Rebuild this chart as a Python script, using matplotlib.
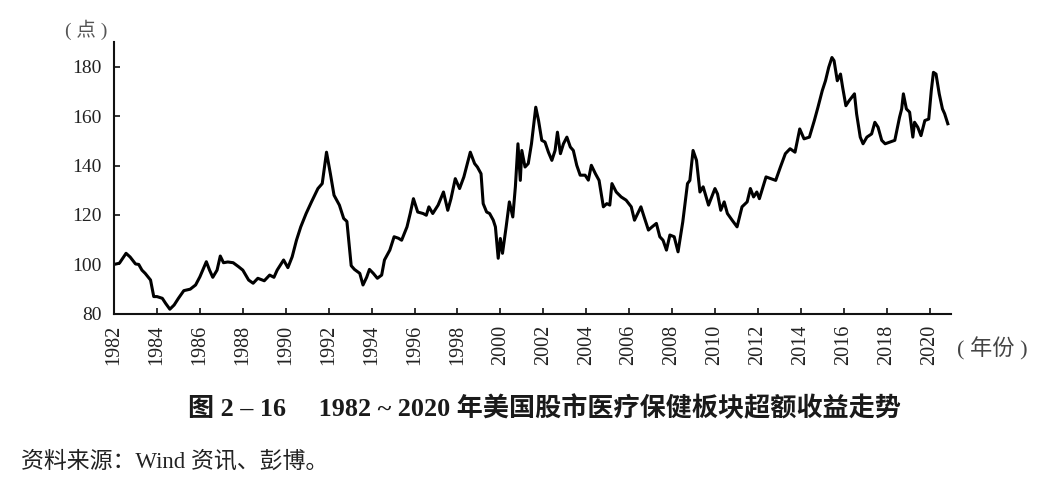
import matplotlib
matplotlib.use("Agg")
import matplotlib.pyplot as plt

# ---- data ----
years = [
    1982.0, 1982.25, 1982.56, 1982.75, 1983.0, 1983.15, 1983.3, 1983.45, 1983.7, 1983.85,
    1984.0, 1984.25, 1984.4, 1984.6, 1984.8, 1985.0, 1985.25, 1985.55, 1985.8, 1986.0,
    1986.3, 1986.45, 1986.6, 1986.8, 1986.95, 1987.1, 1987.3, 1987.55, 1987.8, 1988.0,
    1988.27, 1988.48, 1988.7, 1989.0, 1989.25, 1989.45, 1989.6, 1989.9, 1990.1, 1990.3,
    1990.5, 1990.7, 1990.95, 1991.2, 1991.5, 1991.7, 1991.9, 1992.08, 1992.25, 1992.5,
    1992.7, 1992.85, 1993.05, 1993.2, 1993.45, 1993.6, 1993.77, 1993.9, 1994.08, 1994.27,
    1994.47, 1994.6, 1994.85, 1995.05, 1995.25, 1995.4, 1995.65, 1995.8, 1995.95, 1996.15,
    1996.4, 1996.55, 1996.67, 1996.85, 1997.1, 1997.35, 1997.55, 1997.7, 1997.9, 1998.1,
    1998.3, 1998.6, 1998.8, 1998.93, 1999.1, 1999.2, 1999.36, 1999.5, 1999.67, 1999.77,
    1999.9, 2000.0, 2000.1, 2000.27, 2000.42, 2000.58, 2000.7, 2000.82, 2000.93, 2001.0,
    2001.15, 2001.3, 2001.45, 2001.65, 2001.78, 2001.93, 2002.08, 2002.24, 2002.4, 2002.55,
    2002.66, 2002.8, 2002.94, 2003.1, 2003.26, 2003.4, 2003.56, 2003.72, 2003.95, 2004.1,
    2004.24, 2004.43, 2004.6, 2004.7, 2004.8, 2004.96, 2005.1, 2005.2, 2005.4, 2005.63,
    2005.86, 2006.1, 2006.25, 2006.55, 2006.7, 2006.9, 2007.07, 2007.27, 2007.43, 2007.58,
    2007.74, 2007.9, 2008.1, 2008.28, 2008.5, 2008.72, 2008.83, 2008.98, 2009.14, 2009.3,
    2009.45, 2009.7, 2010.0, 2010.12, 2010.27, 2010.43, 2010.58, 2010.8, 2011.03, 2011.26,
    2011.5, 2011.65, 2011.8, 2011.95, 2012.07, 2012.38, 2012.83, 2013.05, 2013.28, 2013.5,
    2013.73, 2013.95, 2014.15, 2014.4, 2014.63, 2014.8, 2015.0, 2015.15, 2015.3, 2015.45,
    2015.55, 2015.7, 2015.85, 2015.95, 2016.1, 2016.25, 2016.5, 2016.6, 2016.77, 2016.9,
    2017.08, 2017.3, 2017.45, 2017.6, 2017.77, 2017.93, 2018.15, 2018.38, 2018.6, 2018.7,
    2018.78, 2018.92, 2019.07, 2019.22, 2019.3, 2019.45, 2019.6, 2019.78, 2019.96, 2020.08,
    2020.18, 2020.3, 2020.45, 2020.6, 2020.7, 2020.85,
]
excess_return = [
    100.0, 100.5, 104.5, 103.0, 100.2, 100.0, 97.7, 96.4, 93.7, 87.0,
    87.0, 86.3, 84.3, 81.9, 83.6, 86.3, 89.4, 90.0, 91.7, 95.0,
    101.1, 97.7, 94.8, 97.7, 103.4, 100.7, 101.0, 100.7, 99.1, 97.7,
    93.7, 92.4, 94.4, 93.4, 95.7, 94.8, 97.7, 101.8, 98.7, 103.1,
    109.8, 115.2, 120.6, 125.3, 130.7, 132.7, 145.4, 136.7, 128.0, 124.0,
    118.6, 117.4, 99.5, 98.0, 96.4, 91.7, 94.8, 98.0, 96.4, 94.4,
    95.7, 101.8, 105.8, 111.2, 110.6, 109.8, 115.2, 120.6, 126.6, 121.2,
    120.6, 119.9, 123.3, 120.6, 124.0, 129.3, 121.9, 126.6, 134.7, 130.7,
    135.4, 145.4, 140.8, 139.4, 136.7, 124.6, 121.2, 120.6, 117.9, 115.2,
    102.5, 110.5, 104.5, 115.2, 125.3, 119.2, 131.4, 148.8, 134.0, 146.1,
    139.4, 140.8, 148.8, 163.6, 158.2, 150.2, 149.5, 145.4, 142.1, 146.1,
    153.5, 144.8, 148.8, 151.5, 147.5, 146.1, 140.1, 136.1, 136.1, 134.1,
    140.1, 136.7, 134.0, 128.6, 123.3, 124.6, 124.0, 132.7, 129.3, 127.3,
    126.0, 123.3, 117.9, 123.3, 119.2, 113.9, 115.2, 116.6, 111.2, 109.8,
    105.8, 111.9, 111.2, 105.1, 117.2, 132.7, 134.0, 146.1, 142.1, 129.3,
    131.4, 124.0, 130.7, 128.5, 121.9, 125.3, 120.6, 117.9, 115.2, 123.3,
    125.3, 130.7, 127.3, 129.3, 126.6, 135.4, 134.0, 139.4, 144.8, 146.8,
    145.4, 154.8, 150.8, 151.5, 158.2, 163.6, 170.3, 174.3, 179.7, 183.7,
    182.4, 174.3, 177.0, 171.6, 164.2, 166.2, 169.0, 160.9, 151.5, 148.8,
    151.5, 152.8, 157.5, 155.5, 150.2, 148.8, 149.5, 150.2, 159.5, 162.9,
    169.0, 162.9, 161.6, 151.5, 157.5, 155.5, 152.1, 158.2, 158.8, 170.3,
    177.7, 177.0, 169.0, 162.9, 161.0, 156.9,
]
x_ticks = list(range(1982, 2021, 2))
y_ticks = [80, 100, 120, 140, 160, 180]

y_unit = "( 点 )"
x_unit = "( 年份 )"
title = "图 2 – 16　 1982 ~ 2020 年美国股市医疗保健板块超额收益走势"
source = "资料来源：Wind 资讯、彭博。"

# ---- styling ----
SERIF = ["Liberation Serif", "Noto Sans CJK SC", "DejaVu Sans"]
TXT = "#222222"

fig = plt.figure(figsize=(10.56, 4.92), dpi=100)
ax = fig.add_axes([0.108, 0.362, 0.7926, 0.5528])

ax.plot(years, excess_return, color="black", lw=2.2, solid_joinstyle="round")

ax.set_xlim(1982, 2021)
ax.set_ylim(80, 190)
ax.set_xticks(x_ticks)
ax.set_yticks(y_ticks)
ax.set_xticklabels([str(t) for t in x_ticks], rotation=90, family=SERIF,
                   fontsize=14.5, color=TXT)
ax.set_yticklabels([str(t) for t in y_ticks], family=SERIF, fontsize=14, color=TXT)

for s in ["top", "right"]:
    ax.spines[s].set_visible(False)
for s in ["left", "bottom"]:
    ax.spines[s].set_linewidth(1.5)
    ax.spines[s].set_color("#111111")
ax.tick_params(axis="both", direction="in", length=4, width=1.2, color="#111111")
ax.tick_params(axis="x", pad=8)
ax.tick_params(axis="y", pad=9)

fig.text(0.0814, 0.939, y_unit, family=SERIF, fontsize=14, color="#555555",
         ha="center", va="center")
fig.text(0.940, 0.291, x_unit, family=SERIF, fontsize=16, color="#444444",
         ha="center", va="center")
fig.text(0.516, 0.170, title, family=SERIF, fontsize=18.8, fontweight="bold",
         color="#1a1a1a", ha="center", va="center")
fig.text(0.020, 0.062, source, family=SERIF, fontsize=16.5, color="#222222",
         ha="left", va="center")

fig.savefig("out.png", dpi=100)
